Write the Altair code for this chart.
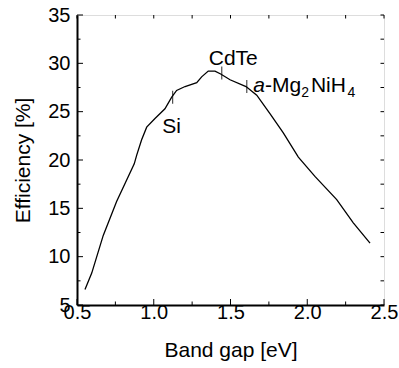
import altair as alt
import pandas as pd

# ---- data ----
band_gap = [0.552, 0.596, 0.671, 0.758, 0.873, 0.889, 0.921, 0.954, 1.008, 1.073,
            1.117, 1.149, 1.204, 1.280, 1.312, 1.355, 1.399, 1.436, 1.497, 1.601,
            1.671, 1.757, 1.844, 1.942, 2.050, 2.192, 2.300, 2.409]
efficiency = [6.6, 8.3, 12.2, 15.7, 19.6, 20.5, 22.1, 23.4, 24.3, 25.3,
              26.5, 27.2, 27.6, 28.0, 28.6, 29.2, 29.2, 28.9, 28.3, 27.6,
              26.7, 24.8, 22.8, 20.3, 18.3, 15.9, 13.5, 11.4]

marker_names = ["Si", "CdTe", "a-Mg2NiH4"]
marker_x = [1.123, 1.443, 1.606]
marker_y = [26.5, 29.0, 27.6]

label_text = ["Si", "CdTe"]
label_x = [1.116, 1.518]
label_y = [22.8, 29.83]

mg_label_x = [1.648]
mg_label_y = [27.03]

x_major = [0.5, 1.0, 1.5, 2.0, 2.5]
x_minor = [0.75, 1.25, 1.75, 2.25]
y_major = [5, 10, 15, 20, 25, 30, 35]
y_minor = [7.5, 12.5, 17.5, 22.5, 27.5, 32.5]

W, H = 307, 290
FONT = "Liberation Sans"

curve = pd.DataFrame({"x": band_gap, "y": efficiency})
markers = pd.DataFrame({"name": marker_names, "x": marker_x, "y": marker_y})
labels = pd.DataFrame({"t": label_text, "x": label_x, "y": label_y})
mg = pd.DataFrame({"x": mg_label_x, "y": mg_label_y})

xs = alt.Scale(domain=[0.5, 2.5], nice=False, zero=False)
ys = alt.Scale(domain=[5, 35], nice=False, zero=False)

x_axis = alt.Axis(values=x_major, format=".1f", title="Band gap [eV]",
                  labelFontSize=20, titleFontSize=21, labelPadding=-3, titlePadding=17,
                  labelFlush=False, labelOverlap=False,
                  ticks=False, grid=False, domainColor="black", domainWidth=2,
                  labelColor="black", titleColor="black", titleFontWeight="normal",
                  labelFont=FONT, titleFont=FONT)
y_axis = alt.Axis(values=y_major, format="d", title="Efficiency [%]",
                  labelFontSize=20, titleFontSize=21, labelPadding=7, titlePadding=14,
                  labelFlush=False, labelOverlap=False,
                  ticks=False, grid=False, domainColor="black", domainWidth=2,
                  labelColor="black", titleColor="black", titleFontWeight="normal",
                  labelFont=FONT, titleFont=FONT)

X = lambda f: alt.X(f, scale=xs, axis=x_axis)
Y = lambda f: alt.Y(f, scale=ys, axis=y_axis)

line = alt.Chart(curve).mark_line(color="black", strokeWidth=1.3).encode(
    x=X("x:Q"), y=Y("y:Q"))

mk = alt.Chart(markers).mark_tick(orient="vertical", size=13, thickness=1.2, color="black").encode(
    x=X("x:Q"), y=Y("y:Q"))

txt = alt.Chart(labels).mark_text(font=FONT, fontSize=21, color="black",
                                  align="center", baseline="alphabetic").encode(
    x=X("x:Q"), y=Y("y:Q"), text="t:N")

def mg_piece(text, dx, size=21, dy=0, style="normal"):
    return alt.Chart(mg).mark_text(font=FONT, fontSize=size, color="black", align="left",
                                   baseline="alphabetic", dx=dx, dy=dy, fontStyle=style,
                                   text=text).encode(x=X("x:Q"), y=Y("y:Q"))

mg_layers = [
    mg_piece("a", 0, style="italic"),
    mg_piece("-Mg", 11.7),
    mg_piece("2", 48, size=14, dy=5),
    mg_piece("NiH", 57.7),
    mg_piece("4", 94.4, size=14, dy=5),
]

def xticks(vals, y0, y1):
    return alt.Chart(pd.DataFrame({"v": vals})).mark_rule(color="black", strokeWidth=1).encode(
        x=X("v:Q"), y=alt.value(y0), y2=alt.value(y1))

def yticks(vals, x0, x1):
    return alt.Chart(pd.DataFrame({"v": vals})).mark_rule(color="black", strokeWidth=1).encode(
        y=Y("v:Q"), x=alt.value(x0), x2=alt.value(x1))

tick_layers = [
    xticks(x_major, H, H - 6), xticks(x_minor, H, H - 3.5),
    xticks(x_major + x_minor, 0, 3.5),
    yticks(y_major, 0, 6), yticks(y_minor, 0, 3.5),
    yticks(y_major + y_minor, W, W - 3.5),
]

chart = alt.layer(line, mk, txt, *mg_layers, *tick_layers).properties(
    width=W, height=H,
    autosize=alt.AutoSizeParams(type="none"),
    padding={"left": 77, "top": 15, "right": 15, "bottom": 63},
).configure_view(stroke="black", strokeWidth=1.5).configure(background="white")

chart.save("out.html", embed_options={"renderer": "svg", "actions": False})
